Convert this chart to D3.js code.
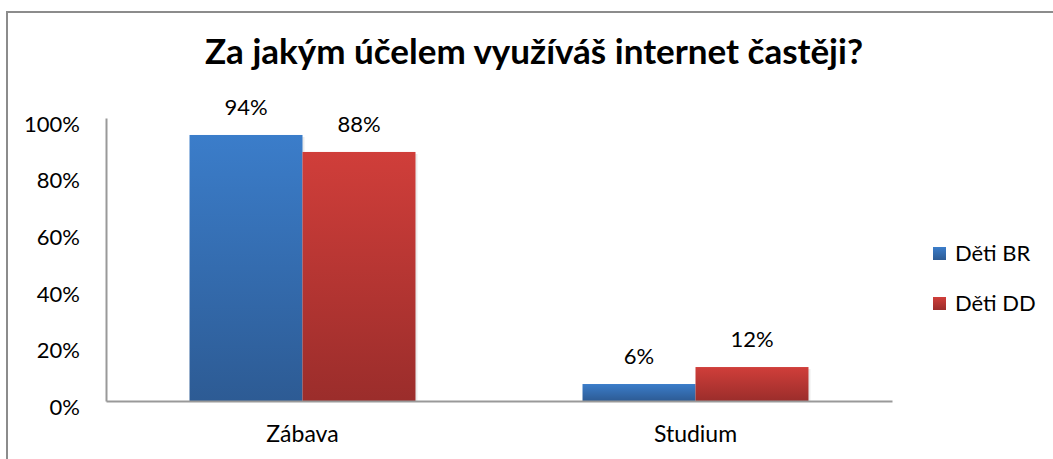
<!DOCTYPE html>
<html>
<head>
<meta charset="UTF-8">
<title>Za jakým účelem využíváš internet častěji?</title>
<script src="https://d3js.org/d3.v7.min.js"></script>
<style>
	body { margin: 0; background: #fff; }
	svg { display: block; font-family: Lato, "Open Sans", sans-serif; }
</style>
</head>
<body>
<div id="chart"></div>
<script>
// chart data
var categories = ["Zábava", "Studium"];
var seriesNames = ["Děti BR", "Děti DD"];
var valuesBR = [0.94, 0.06];
var valuesDD = [0.88, 0.12];
var yTicks = [0, 0.2, 0.4, 0.6, 0.8, 1];

var width = 1053, height = 459;
var plotLeft = 106, plotRight = 892, plotTop = 118, plotBottom = 401;

var svg = d3.select("#chart").append("svg")
	.attr("width", width)
	.attr("height", height);

// gradients for bars
var defs = svg.append("defs");
var grads = [["gBlue", "#3b7dca", "#2d5b94"], ["gRed", "#d03e3a", "#9b2d2b"]];
grads.forEach(function(g){
	var lg = defs.append("linearGradient").attr("id", g[0])
		.attr("x1", 0).attr("y1", 0).attr("x2", 0).attr("y2", 1);
	lg.append("stop").attr("offset", "0%").attr("stop-color", g[1]);
	lg.append("stop").attr("offset", "100%").attr("stop-color", g[2]);
});
var fills = ["url(#gBlue)", "url(#gRed)"];

// outer frame
svg.append("rect")
	.attr("x", 7).attr("y", 12)
	.attr("width", 1060).attr("height", 470)
	.attr("fill", "none")
	.attr("stroke", "#8c8c8c")
	.attr("stroke-width", 2);

// title
svg.append("text")
	.attr("x", 534).attr("y", 64)
	.attr("text-anchor", "middle")
	.attr("font-size", "35px")
	.attr("font-weight", "bold")
	.attr("fill", "#000")
	.text("Za jakým účelem využíváš internet častěji?");

var x0 = d3.scaleBand().domain(categories).range([plotLeft, plotRight]).paddingInner(0.425).paddingOuter(0.2125);
var x1 = d3.scaleBand().domain(seriesNames).range([0, x0.bandwidth()]);
var y = d3.scaleLinear().domain([0, 1]).range([plotBottom, plotTop]);

var rows = categories.map(function(c, i){
	return { cat: c, vals: [valuesBR[i], valuesDD[i]] };
});

// bars
var groups = svg.selectAll(".grp").data(rows).enter().append("g")
	.attr("class", "grp")
	.attr("transform", function(d){ return "translate(" + x0(d.cat) + ",0)"; });

groups.selectAll("rect.shadow").data(function(d){ return d.vals; }).enter().append("rect")
	.attr("class", "shadow")
	.attr("x", function(d, i){ return x1(seriesNames[i]) + 2; })
	.attr("y", function(d){ return y(d) + 2; })
	.attr("width", x1.bandwidth())
	.attr("height", function(d){ return plotBottom - y(d) - 2; })
	.attr("fill", "#000").attr("opacity", 0.08);

groups.selectAll("rect.bar").data(function(d){ return d.vals; }).enter().append("rect")
	.attr("class", "bar")
	.attr("x", function(d, i){ return x1(seriesNames[i]); })
	.attr("y", function(d){ return y(d); })
	.attr("width", x1.bandwidth())
	.attr("height", function(d){ return plotBottom - y(d); })
	.attr("fill", function(d, i){ return fills[i]; });

// value labels
groups.selectAll("text.val").data(function(d){ return d.vals; }).enter().append("text")
	.attr("class", "val")
	.attr("x", function(d, i){ return x1(seriesNames[i]) + x1.bandwidth() / 2; })
	.attr("y", function(d){ return y(d) - 20; })
	.attr("text-anchor", "middle")
	.attr("font-size", "22px")
	.attr("fill", "#000")
	.text(function(d){ return Math.round(d * 100) + "%"; });

// y axis
var yAxis = d3.axisLeft(y).tickValues(yTicks).tickSize(0).tickPadding(26)
	.tickFormat(function(d){ return Math.round(d * 100) + "%"; });
var gy = svg.append("g").attr("transform", "translate(" + plotLeft + ",0)").call(yAxis);
gy.select(".domain").attr("stroke", "#999").attr("stroke-width", 2);
gy.selectAll("text").attr("font-size", "22px").attr("fill", "#000")
	.attr("font-family", "Lato, sans-serif").attr("dy", "0.6em");

// x axis
var xAxis = d3.axisBottom(x0).tickSize(0).tickPadding(25);
var gx = svg.append("g").attr("transform", "translate(0," + plotBottom + ")").call(xAxis);
gx.select(".domain").attr("stroke", "#999").attr("stroke-width", 2);
gx.selectAll("text").attr("font-size", "23px").attr("fill", "#000").attr("font-family", "Lato, sans-serif");

// legend
var legend = svg.selectAll(".leg").data(seriesNames).enter().append("g")
	.attr("class", "leg")
	.attr("transform", function(d, i){ return "translate(933," + (247 + i * 50) + ")"; });
legend.append("rect").attr("width", 13).attr("height", 13)
	.attr("fill", function(d, i){ return fills[i]; });
legend.append("text").attr("x", 22).attr("y", 14)
	.attr("font-size", "22px").attr("fill", "#000")
	.text(function(d){ return d; });
</script>
</body>
</html>
